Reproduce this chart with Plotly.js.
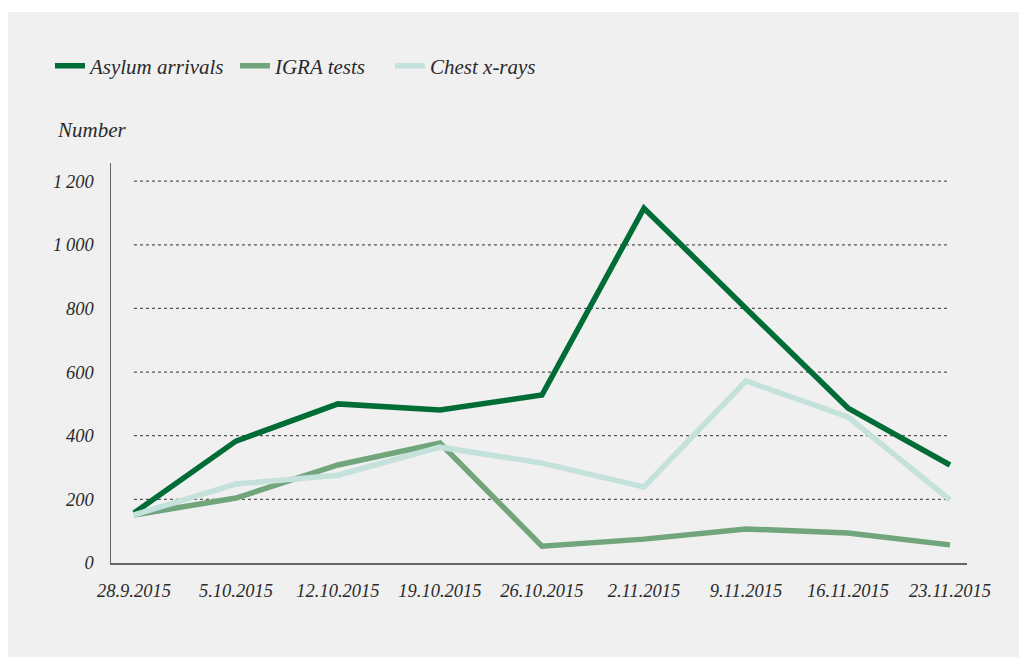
<!DOCTYPE html>
<html>
<head>
<meta charset="utf-8">
<script src="https://cdn.plot.ly/plotly-3.0.1.min.js"></script>
<style>
  html, body { margin: 0; padding: 0; background: #ffffff; }
  #chart { position: absolute; left: 8px; top: 12px; width: 1011px; height: 645px; }
</style>
</head>
<body>
<div id="chart"></div>
<script>
const weeks = ['28.9.2015', '5.10.2015', '12.10.2015', '19.10.2015', '26.10.2015', '2.11.2015', '9.11.2015', '16.11.2015', '23.11.2015'];
const asylumArrivals = [157, 383, 500, 481, 528, 1115, 800, 487, 308];
const igraTests = [151, 204, 308, 377, 53, 75, 107, 94, 57];
const chestXrays = [151, 248, 276, 364, 314, 239, 572, 459, 198];
const yTickVals = [0, 200, 400, 600, 800, 1000, 1200];
const yTickText = ['0', '200', '400', '600', '800', '1\u2009000', '1\u2009200'];

const FONT = 'Liberation Serif, DejaVu Serif, serif';
const TXT = '#2a2a2a';

const traces = [
  { x: weeks, y: asylumArrivals, name: 'Asylum arrivals', type: 'scatter', mode: 'lines',
    legend: 'legend', line: { color: '#006d36', width: 5.5 } },
  { x: weeks, y: igraTests, name: 'IGRA tests', type: 'scatter', mode: 'lines',
    legend: 'legend2', line: { color: '#71a67c', width: 5.5 } },
  { x: weeks, y: chestXrays, name: 'Chest x-rays', type: 'scatter', mode: 'lines',
    legend: 'legend3', line: { color: '#c4e1db', width: 5.5 } }
];

const gridShapes = yTickVals.filter(v => v > 0).map(v => ({
  type: 'line', xref: 'x', yref: 'y', x0: 0, x1: weeks.length - 1, y0: v, y1: v,
  line: { color: '#555555', width: 1.3, dash: 'dot' }, layer: 'below'
}));

function legendAt(x) {
  return {
    orientation: 'h', x: x, y: 0.916, xanchor: 'left', yanchor: 'middle',
    yref: 'container', bgcolor: 'rgba(0,0,0,0)',
    font: { family: FONT, size: 21, color: TXT, style: 'italic' },
    itemwidth: 30
  };
}

const layout = {
  width: 1011, height: 645,
  paper_bgcolor: '#f0f0f0', plot_bgcolor: '#f0f0f0',
  margin: { l: 103, r: 52, t: 151, b: 94 },
  font: { family: FONT, size: 18, color: TXT, style: 'italic' },
  showlegend: true,
  legend: legendAt(-0.0713),
  legend2: legendAt(0.1448),
  legend3: legendAt(0.3259),
  xaxis: {
    type: 'category', range: [-0.225, 8.167], showgrid: false, zeroline: false,
    showline: true, linecolor: '#666666', linewidth: 1.5,
    ticks: 'outside', ticklen: 10, tickcolor: 'rgba(0,0,0,0)',
    tickfont: { family: FONT, size: 18.5, color: TXT, style: 'italic' },
    fixedrange: true
  },
  yaxis: {
    range: [0, 1257], showgrid: false, zeroline: false,
    showline: true, linecolor: '#666666', linewidth: 1.5,
    tickvals: yTickVals, ticktext: yTickText,
    ticks: 'outside', ticklen: 12, tickcolor: 'rgba(0,0,0,0)',
    tickfont: { family: FONT, size: 18.5, color: TXT, style: 'italic' },
    fixedrange: true
  },
  shapes: gridShapes,
  annotations: [
    { text: 'Number', xref: 'paper', yref: 'paper', x: -0.066, y: 1.0825,
      xanchor: 'left', yanchor: 'middle', showarrow: false,
      font: { family: FONT, size: 21, color: TXT, style: 'italic' } }
  ]
};

Plotly.newPlot('chart', traces, layout, { displayModeBar: false, staticPlot: true });
</script>
</body>
</html>
